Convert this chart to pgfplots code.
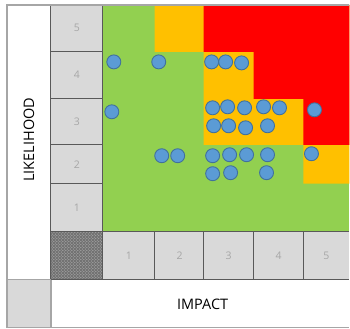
\documentclass[border=0pt]{standalone}
\usepackage{pgfplots}
\pgfplotsset{compat=1.18}
\usepackage{fontspec}
\setmainfont{Open Sans}
\usetikzlibrary{patterns}
\definecolor{zgreen}{HTML}{92D050}
\definecolor{zorange}{HTML}{FFC000}
\definecolor{zred}{HTML}{FF0000}
\definecolor{cellgray}{HTML}{D9D9D9}
\definecolor{linedark}{HTML}{595959}
\definecolor{framegray}{HTML}{A6A6A6}
\definecolor{digit}{HTML}{A6A6A6}
\definecolor{dotfill}{HTML}{5B9BD5}
\definecolor{dotdraw}{HTML}{41719C}
\begin{document}
\begin{tikzpicture}
\begin{axis}[scale only axis, width=350pt, height=329pt,
  xmin=0, xmax=350, ymin=0, ymax=329, y dir=reverse,
  hide axis, clip=false]
% left label column and bottom label row
\fill[white] (axis cs:7,5) rectangle (axis cs:51,280);
\fill[white] (axis cs:51,280) rectangle (axis cs:350,328);
\fill[cellgray] (axis cs:7,280) rectangle (axis cs:51,328);
% zones
\addplot[fill=zgreen, draw=none] coordinates {(103,5) (350,5) (350,232) (103,232)} -- cycle;
\addplot[fill=zorange, draw=none] coordinates {(155,5) (350,5) (350,184) (304,184) (304,145) (204,145) (204,52) (155,52)} -- cycle;
\addplot[fill=zred, draw=none] coordinates {(204,5) (350,5) (350,145) (304,145) (304,99) (254,99) (254,52) (204,52)} -- cycle;
% likelihood cells
\fill[cellgray] (axis cs:51,5) rectangle (axis cs:103,232);
\fill[cellgray] (axis cs:103,232) rectangle (axis cs:350,280);
\fill[linedark!85] (axis cs:51,232) rectangle (axis cs:103,280);
\fill[pattern=crosshatch dots, pattern color=white!75!black] (axis cs:51,232) rectangle (axis cs:103,280);
\draw[linedark, line width=1pt] (axis cs:51,5) -- (axis cs:51,280);
\draw[linedark, line width=1pt] (axis cs:103,5) -- (axis cs:103,280);
\draw[linedark, line width=1pt] (axis cs:51,52) -- (axis cs:103,52);
\draw[linedark, line width=1pt] (axis cs:51,99) -- (axis cs:103,99);
\draw[linedark, line width=1pt] (axis cs:51,145) -- (axis cs:103,145);
\draw[linedark, line width=1pt] (axis cs:51,184) -- (axis cs:103,184);
\draw[linedark, line width=1pt] (axis cs:51,232) -- (axis cs:350,232);
\draw[linedark, line width=1pt] (axis cs:51,280) -- (axis cs:350,280);
\draw[linedark, line width=1pt] (axis cs:155,232) -- (axis cs:155,280);
\draw[linedark, line width=1pt] (axis cs:204,232) -- (axis cs:204,280);
\draw[linedark, line width=1pt] (axis cs:254,232) -- (axis cs:254,280);
\draw[linedark, line width=1pt] (axis cs:304,232) -- (axis cs:304,280);
% outer frame
\draw[framegray, line width=1.2pt] (axis cs:350,5) -- (axis cs:7,5) -- (axis cs:7,328) -- (axis cs:350,328);
\draw[framegray, line width=1.2pt] (axis cs:7,280) -- (axis cs:51,280);
\draw[framegray, line width=1.2pt] (axis cs:51,280) -- (axis cs:51,328);
% tick labels
\node[text=digit, font=\fontsize{10.5}{12}\selectfont] at (axis cs:77,28) {5};
\node[text=digit, font=\fontsize{10.5}{12}\selectfont] at (axis cs:77,75) {4};
\node[text=digit, font=\fontsize{10.5}{12}\selectfont] at (axis cs:77,122) {3};
\node[text=digit, font=\fontsize{10.5}{12}\selectfont] at (axis cs:77,165) {2};
\node[text=digit, font=\fontsize{10.5}{12}\selectfont] at (axis cs:77,208) {1};
\node[text=digit, font=\fontsize{10.5}{12}\selectfont] at (axis cs:129,256) {1};
\node[text=digit, font=\fontsize{10.5}{12}\selectfont] at (axis cs:180,256) {2};
\node[text=digit, font=\fontsize{10.5}{12}\selectfont] at (axis cs:229,256) {3};
\node[text=digit, font=\fontsize{10.5}{12}\selectfont] at (axis cs:279,256) {4};
\node[text=digit, font=\fontsize{10.5}{12}\selectfont] at (axis cs:327,256) {5};
\node[rotate=90, font=\fontsize{14.5}{16}\selectfont] at (axis cs:29,140) {LIKELIHOOD};
\node[font=\fontsize{14.5}{16}\selectfont] at (axis cs:203,305) {IMPACT};
% risks
\addplot[only marks, mark=*, mark size=7pt, mark options={fill=dotfill, draw=dotdraw, line width=0.9pt}] coordinates {
(114,62) (159,62) (212,62) (226,62) (242,63)
(112,112) (213,108) (228,107) (245,108) (264,107) (280,108) (315,110)
(214,126) (229,126) (246,128) (268,126)
(162,156) (178,156) (213,156) (230,155) (247,155) (268,155) (312,154)
(213,174) (231,173) (267,173)
};
\path (axis cs:0,0) (axis cs:350,329);
\end{axis}
\end{tikzpicture}
\end{document}
